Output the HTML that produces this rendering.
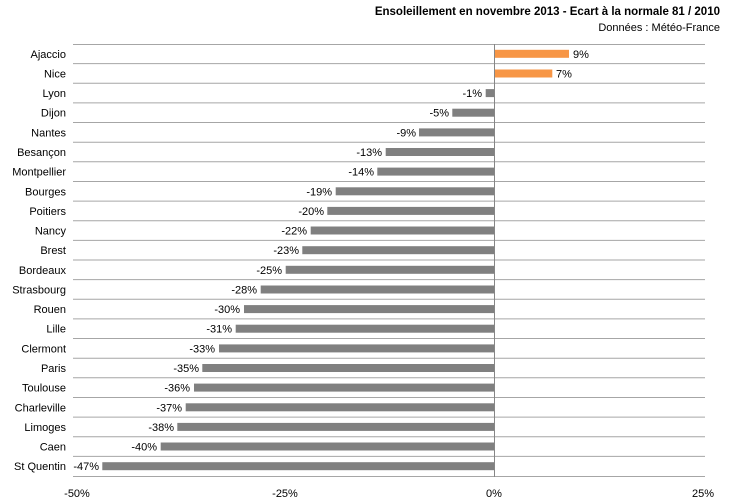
<!DOCTYPE html>
<html><head><meta charset="utf-8"><style>
html,body{margin:0;padding:0;background:#fff;}
svg{display:block;font-family:"Liberation Sans",sans-serif;font-size:11px;fill:#000;}
</style></head><body>
<svg width="730" height="503" xmlns="http://www.w3.org/2000/svg">
<text x="720" y="15" text-anchor="end" font-weight="bold" font-size="11.5">Ensoleillement en novembre 2013 - Ecart à la normale 81 / 2010</text>
<text x="720" y="31" text-anchor="end">Données : Météo-France</text>
<g stroke="#a6a6a6" stroke-width="1">
<line x1="73" x2="705" y1="44.5" y2="44.5"/><line x1="73" x2="705" y1="63.6" y2="63.6"/><line x1="73" x2="705" y1="83.3" y2="83.3"/><line x1="73" x2="705" y1="102.9" y2="102.9"/><line x1="73" x2="705" y1="122.5" y2="122.5"/><line x1="73" x2="705" y1="142.2" y2="142.2"/><line x1="73" x2="705" y1="161.8" y2="161.8"/><line x1="73" x2="705" y1="181.5" y2="181.5"/><line x1="73" x2="705" y1="201.1" y2="201.1"/><line x1="73" x2="705" y1="220.7" y2="220.7"/><line x1="73" x2="705" y1="240.4" y2="240.4"/><line x1="73" x2="705" y1="260" y2="260"/><line x1="73" x2="705" y1="279.6" y2="279.6"/><line x1="73" x2="705" y1="299.3" y2="299.3"/><line x1="73" x2="705" y1="318.9" y2="318.9"/><line x1="73" x2="705" y1="338.5" y2="338.5"/><line x1="73" x2="705" y1="358.2" y2="358.2"/><line x1="73" x2="705" y1="377.8" y2="377.8"/><line x1="73" x2="705" y1="397.5" y2="397.5"/><line x1="73" x2="705" y1="417.1" y2="417.1"/><line x1="73" x2="705" y1="436.7" y2="436.7"/><line x1="73" x2="705" y1="456.4" y2="456.4"/><line x1="73" x2="705" y1="476.5" y2="476.5"/>
</g>
<g fill="#f79646">
<rect x="494" y="49.8" width="75" height="8"/>
<rect x="494" y="69.5" width="58.3" height="8"/>
</g>
<g fill="#808080">
<rect x="485.7" y="89.1" width="8.3" height="8"/>
<rect x="452.3" y="108.7" width="41.7" height="8"/>
<rect x="419" y="128.4" width="75" height="8"/>
<rect x="385.7" y="148" width="108.3" height="8"/>
<rect x="377.3" y="167.6" width="116.7" height="8"/>
<rect x="335.7" y="187.3" width="158.3" height="8"/>
<rect x="327.3" y="206.9" width="166.7" height="8"/>
<rect x="310.7" y="226.5" width="183.3" height="8"/>
<rect x="302.3" y="246.2" width="191.7" height="8"/>
<rect x="285.7" y="265.8" width="208.3" height="8"/>
<rect x="260.7" y="285.5" width="233.3" height="8"/>
<rect x="244" y="305.1" width="250" height="8"/>
<rect x="235.7" y="324.7" width="258.3" height="8"/>
<rect x="219" y="344.4" width="275" height="8"/>
<rect x="202.3" y="364" width="291.7" height="8"/>
<rect x="194" y="383.6" width="300" height="8"/>
<rect x="185.7" y="403.3" width="308.3" height="8"/>
<rect x="177.3" y="422.9" width="316.7" height="8"/>
<rect x="160.7" y="442.5" width="333.3" height="8"/>
<rect x="102.3" y="462.2" width="391.7" height="8"/>
</g>
<line x1="494.5" x2="494.5" y1="44" y2="477" stroke="#868686"/>
<g text-anchor="end">
<text x="66" y="57.8">Ajaccio</text><text x="66" y="77.5">Nice</text><text x="66" y="97.1">Lyon</text><text x="66" y="116.7">Dijon</text><text x="66" y="136.4">Nantes</text><text x="66" y="156">Besançon</text><text x="66" y="175.6">Montpellier</text><text x="66" y="195.3">Bourges</text><text x="66" y="214.9">Poitiers</text><text x="66" y="234.5">Nancy</text><text x="66" y="254.2">Brest</text><text x="66" y="273.8">Bordeaux</text><text x="66" y="293.5">Strasbourg</text><text x="66" y="313.1">Rouen</text><text x="66" y="332.7">Lille</text><text x="66" y="352.4">Clermont</text><text x="66" y="372">Paris</text><text x="66" y="391.6">Toulouse</text><text x="66" y="411.3">Charleville</text><text x="66" y="430.9">Limoges</text><text x="66" y="450.5">Caen</text><text x="66" y="470.2">St Quentin</text>
<text x="482" y="97.1">-1%</text><text x="449" y="116.7">-5%</text><text x="416" y="136.4">-9%</text><text x="382" y="156">-13%</text><text x="374" y="175.6">-14%</text><text x="332" y="195.3">-19%</text><text x="324" y="214.9">-20%</text><text x="307" y="234.5">-22%</text><text x="299" y="254.2">-23%</text><text x="282" y="273.8">-25%</text><text x="257" y="293.5">-28%</text><text x="240" y="313.1">-30%</text><text x="232" y="332.7">-31%</text><text x="215" y="352.4">-33%</text><text x="199" y="372">-35%</text><text x="190" y="391.6">-36%</text><text x="182" y="411.3">-37%</text><text x="174" y="430.9">-38%</text><text x="157" y="450.5">-40%</text><text x="99" y="470.2">-47%</text>
</g>
<text x="573" y="57.8">9%</text><text x="556" y="77.5">7%</text>
<g text-anchor="middle">
<text x="77" y="497">-50%</text><text x="285" y="497">-25%</text><text x="494" y="497">0%</text><text x="703" y="497">25%</text>
</g>
</svg>
</body></html>
